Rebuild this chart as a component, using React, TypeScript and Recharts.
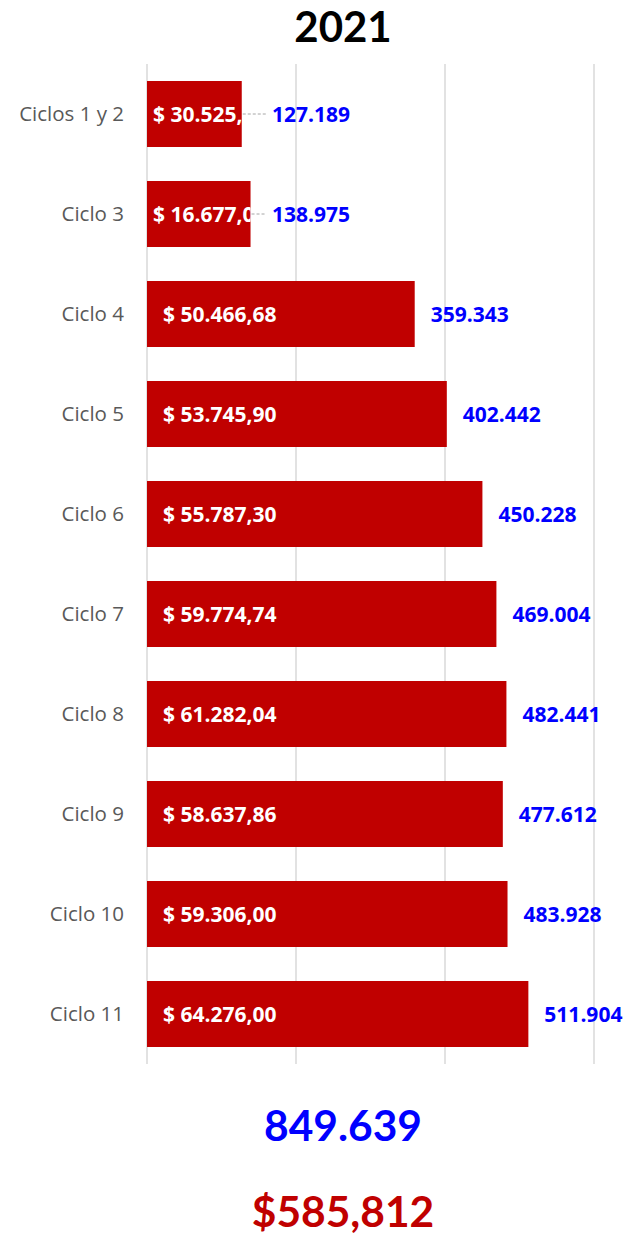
import { FC } from 'react';
import { BarChart, Bar, XAxis, YAxis, CartesianGrid, LabelList } from 'recharts';

const categories = ['Ciclos 1 y 2', 'Ciclo 3', 'Ciclo 4', 'Ciclo 5', 'Ciclo 6', 'Ciclo 7', 'Ciclo 8', 'Ciclo 9', 'Ciclo 10', 'Ciclo 11'];
const alumnos = [127189, 138975, 359343, 402442, 450228, 469004, 482441, 477612, 483928, 511904];
const montos = [30525.0, 16677.0, 50466.68, 53745.9, 55787.3, 59774.74, 61282.04, 58637.86, 59306.0, 64276.0];
const xTicks = [0, 200000, 400000, 600000];
const title = '2021';
const totalAlumnos = '849.639';
const totalMonto = '$585,812';

const FONT = '"Open Sans", sans-serif';
const BIG_FONT = 'Lato, sans-serif';
const RED = '#C00000';
const BLUE = '#0000FF';

const miles = (n: number) => String(n).replace(/\B(?=(\d{3})+(?!\d))/g, '.');
const formatMonto = (v: number) => {
  const [ent, dec] = v.toFixed(2).split('.');
  return `$ ${miles(Number(ent))},${dec}`;
};

const data = categories.map((name, i) => ({ name, alumnos: alumnos[i], monto: montos[i] }));

// etiqueta blanca dentro de la barra, recortada al final de la barra
const MontoLabel = (props: any) => {
  const { x, y, width, height, index } = props;
  const offset = width < 120 ? 6 : 16;
  const id = `clip-bar-${index}`;
  return (
    <g>
      <clipPath id={id}>
        <rect x={x} y={y} width={width} height={height} />
      </clipPath>
      <text
        x={x + offset}
        y={y + height / 2}
        dy="0.36em"
        fill="#ffffff"
        fontFamily={FONT}
        fontWeight={700}
        fontSize={21}
        clipPath={`url(#${id})`}
      >
        {formatMonto(montos[index])}
      </text>
    </g>
  );
};

// etiqueta azul fuera de la barra, con línea guía si la barra es corta
const AlumnosLabel = (props: any) => {
  const { x, y, width, height, value } = props;
  const end = x + width;
  const tx = Math.max(end + 16, 272);
  const cy = y + height / 2;
  return (
    <g>
      {tx - end > 20 && (
        <line x1={end + 1} y1={cy} x2={tx - 6} y2={cy} stroke="#a6a6a6" strokeWidth={1} strokeDasharray="3 2" />
      )}
      <text x={tx} y={cy} dy="0.36em" fill={BLUE} fontFamily={FONT} fontWeight={700} fontSize={21}>
        {miles(value)}
      </text>
    </g>
  );
};

const EmptyTick = () => <g />;

const bigText = (top: number, color: string, size: number): React.CSSProperties => ({
  position: 'absolute',
  left: 143,
  top,
  width: 400,
  textAlign: 'center',
  fontFamily: BIG_FONT,
  fontWeight: 700,
  fontSize: size,
  lineHeight: `${size}px`,
  color,
});

const App: FC = () => {
  return (
    <div style={{ position: 'absolute', left: 0, top: 0, width: 628, height: 1238, background: '#fff', overflow: 'hidden' }}>
      <div style={bigText(5, '#000', 42)}>{title}</div>
      <div style={{ position: 'absolute', left: 0, top: 0 }}>
        <BarChart
          width={628}
          height={1080}
          data={data}
          layout="vertical"
          margin={{ top: 64, right: 34, left: 0, bottom: 16 }}
          barSize={66}
        >
          <CartesianGrid horizontal={false} stroke="#d9d9d9" strokeWidth={1.5} />
          <XAxis
            type="number"
            domain={[0, 600000]}
            ticks={xTicks}
            interval={0}
            tick={EmptyTick}
            axisLine={false}
            tickLine={false}
            height={0}
          />
          <YAxis
            type="category"
            dataKey="name"
            width={147}
            axisLine={false}
            tickLine={false}
            tickMargin={17}
            tick={{ fill: '#595959', fontSize: 20.5, fontFamily: FONT }}
          />
          <Bar dataKey="alumnos" fill={RED} isAnimationActive={false}>
            <LabelList dataKey="monto" content={MontoLabel} />
            <LabelList dataKey="alumnos" content={AlumnosLabel} />
          </Bar>
        </BarChart>
      </div>
      <div style={bigText(1104, BLUE, 42.5)}>{totalAlumnos}</div>
      <div style={bigText(1190, RED, 42.5)}>{totalMonto}</div>
    </div>
  );
};

export default App;
